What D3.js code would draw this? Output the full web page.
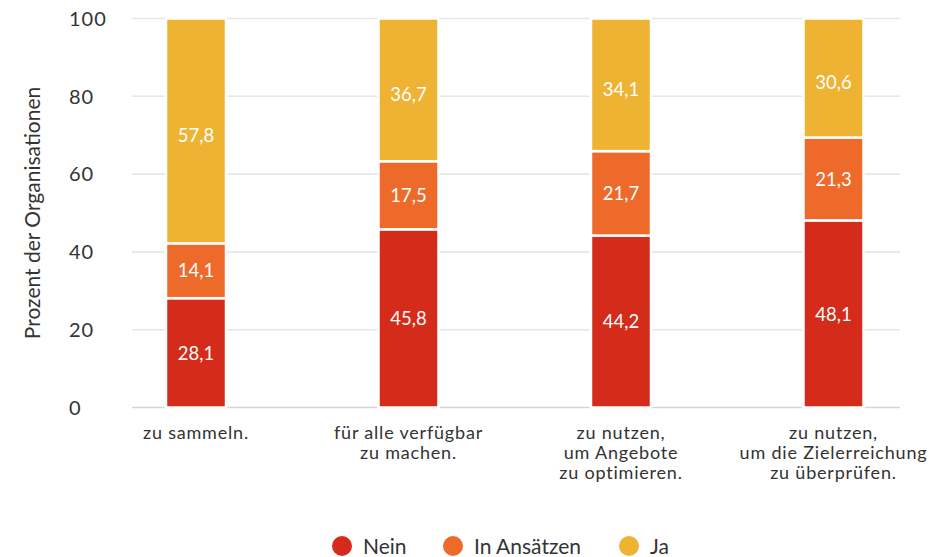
<!DOCTYPE html>
<html>
<head>
<meta charset="utf-8">
<script src="https://cdn.jsdelivr.net/npm/d3@7"></script>
<style>
  html, body { margin: 0; padding: 0; background: #ffffff; }
  svg { display: block; font-family: Lato, "Open Sans", sans-serif; }
</style>
</head>
<body>
<svg id="chart" width="951" height="557"></svg>
<script>
// ---- data ----
const categories = [
  ["zu sammeln."],
  ["für alle verfügbar", "zu machen."],
  ["zu nutzen,", "um Angebote", "zu optimieren."],
  ["zu nutzen,", "um die Zielerreichung", "zu überprüfen."]
];
const seriesNames = ["Nein", "In Ansätzen", "Ja"];
const nein = [28.1, 45.8, 44.2, 48.1];
const inAnsaetzen = [14.1, 17.5, 21.7, 21.3];
const ja = [57.8, 36.7, 34.1, 30.6];
const yTicks = [0, 20, 40, 60, 80, 100];
const colors = ["#d52b1a", "#ee6a2b", "#eeb332"];
const yTitle = "Prozent der Organisationen";

// ---- layout ----
const svg = d3.select("#chart");
const textColor = "#333333";
const catIdx = categories.map((d, i) => i);
const rows = catIdx.map(i => ({ i, Nein: nein[i], "In Ansätzen": inAnsaetzen[i], Ja: ja[i] }));

const x = d3.scaleBand().domain(catIdx).range([89.75, 939.75])
  .paddingInner(1 - 60 / 212.5).paddingOuter((1 - 60 / 212.5) / 2);
const y = d3.scaleLinear().domain([0, 100]).range([407.5, 18.5]);

// gridlines
svg.append("g").selectAll("line").data(yTicks).join("line")
  .attr("x1", 132).attr("x2", 900)
  .attr("y1", d => y(d)).attr("y2", d => y(d))
  .attr("stroke", d => d === 0 ? "#d6d6d6" : "#e6e6e6")
  .attr("stroke-width", 1.6);

// y tick labels
svg.append("g").selectAll("text").data(yTicks).join("text")
  .attr("x", 69).attr("y", d => y(d)).attr("dy", "0.36em")
  .attr("fill", textColor).attr("font-size", 20).attr("letter-spacing", 1)
  .text(d => d);

// y title
svg.append("text")
  .attr("transform", `translate(40,${(y(0) + y(100)) / 2}) rotate(-90)`)
  .attr("text-anchor", "middle").attr("fill", textColor).attr("font-size", 21)
  .text(yTitle);

// stacked bars
const stack = d3.stack().keys(seriesNames)(rows);
const layers = svg.append("g").selectAll("g").data(stack).join("g")
  .attr("fill", (d, k) => colors[k]);
layers.selectAll("rect").data(d => d).join("rect")
  .attr("x", d => x(d.data.i))
  .attr("width", x.bandwidth())
  .attr("y", d => y(d[1]))
  .attr("height", d => y(d[0]) - y(d[1]))
  .attr("stroke", "#ffffff").attr("stroke-width", 2.5);

// value labels (top-segment labels sit slightly lower, as in the reference)
const fmt = v => v.toFixed(1).replace(".", ",");
layers.selectAll("text").data((d, k) => d.map(p => ({ p, v: p.data[d.key], top: k === seriesNames.length - 1 }))).join("text")
  .attr("x", d => x(d.p.data.i) + x.bandwidth() / 2)
  .attr("y", d => (y(d.p[0]) + y(d.p[1])) / 2 + (d.top ? 4.5 : 0))
  .attr("dy", "0.36em")
  .attr("text-anchor", "middle").attr("fill", "#ffffff").attr("font-size", 18.5)
  .text(d => fmt(d.v));

// category labels
const cat = svg.append("g").selectAll("text").data(catIdx).join("text")
  .attr("x", i => x(i) + x.bandwidth() / 2)
  .attr("y", 439)
  .attr("text-anchor", "middle").attr("fill", textColor)
  .attr("font-size", 18).attr("letter-spacing", 0.8);
cat.selectAll("tspan").data(i => categories[i].map(t => ({ t, i }))).join("tspan")
  .attr("x", d => x(d.i) + x.bandwidth() / 2)
  .attr("dy", (d, k) => k === 0 ? 0 : 20)
  .text(d => d.t);

// legend
const legendX = [342, 453, 629];
const legend = svg.append("g").selectAll("g").data(seriesNames).join("g")
  .attr("transform", (d, k) => `translate(${legendX[k]},546)`);
legend.append("circle").attr("r", 10).attr("fill", (d, k) => colors[k]);
legend.append("text").attr("x", 21).attr("dy", "0.36em")
  .attr("fill", textColor).attr("font-size", 21).text(d => d);
</script>
</body>
</html>
